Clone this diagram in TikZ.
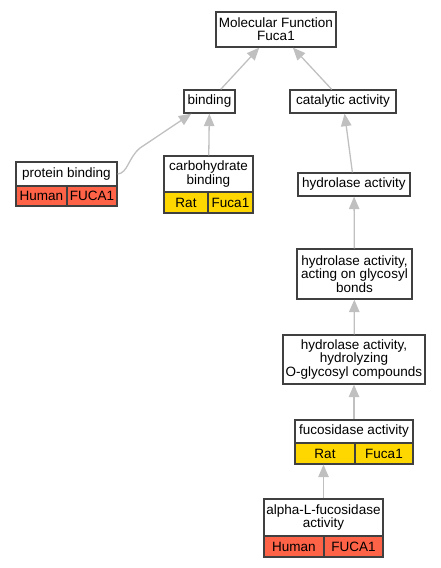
\documentclass[tikz,border=0pt]{standalone}
\usepackage{fontspec}
\setmainfont{Liberation Sans}
\usetikzlibrary{arrows.meta}
\definecolor{humancol}{HTML}{FF6347}
\definecolor{ratcol}{HTML}{FFD700}
\definecolor{edgecol}{HTML}{C0C0C0}
\definecolor{boxcol}{HTML}{404040}
\begin{document}
\begin{tikzpicture}[x=1pt,y=-1pt,
           term_style/.style={rectangle,draw=boxcol,line width=1.3pt,fill=white,inner sep=0pt,align=center,font=\fontsize{13.5}{13.2}\selectfont},
           human_style/.style={term_style,fill=humancol},
           rat_style/.style={term_style,fill=ratcol},
           edge_style/.style={draw=edgecol,line width=1.3pt,-{Triangle[length=12.5pt,width=10.5pt]}}]
            \useasboundingbox (0,0) rectangle (440,568);
            % terms
            \node[term_style,minimum width=120pt,minimum height=35pt] (mf) at (276, 29.5) {Molecular Function\\Fuca1};
            \node[term_style,minimum width=51pt,minimum height=23pt] (bind) at (209.5, 101.5) {binding};
            \node[term_style,minimum width=106pt,minimum height=23pt] (cat) at (343, 101.5) {catalytic activity};
            \node[term_style,minimum width=101pt,minimum height=24pt] (pb) at (66.5, 174) {protein binding};
            \node[term_style,minimum width=89pt,minimum height=36pt] (cb) at (208.5, 174) {carbohydrate\\binding};
            \node[term_style,minimum width=112pt,minimum height=23pt] (hyd) at (354, 184.5) {hydrolase activity};
            \node[term_style,minimum width=115pt,minimum height=50pt] (glyc) at (354.5, 274) {hydrolase activity,\\acting on glycosyl\\bonds};
            \node[term_style,minimum width=142pt,minimum height=49pt] (ogly) at (354, 359.5) {hydrolase activity,\\hydrolyzing\\O-glycosyl compounds};
            \node[term_style,minimum width=118pt,minimum height=23pt] (fuc) at (354, 431.5) {fucosidase activity};
            \node[term_style,minimum width=119pt,minimum height=37pt] (afuc) at (323.5, 517.5) {alpha-L-fucosidase\\activity};
            % species rows
            \node[human_style,minimum width=51pt,minimum height=20pt] (pb_sp) at (41.5, 196) {Human};
            \node[human_style,minimum width=50pt,minimum height=20pt] (pb_gene) at (92, 196) {FUCA1};
            \node[rat_style,minimum width=44pt,minimum height=21pt] (cb_sp) at (186, 202.5) {Rat};
            \node[rat_style,minimum width=45pt,minimum height=21pt] (cb_gene) at (230.5, 202.5) {Fuca1};
            \node[rat_style,minimum width=60pt,minimum height=21pt] (fuc_sp) at (325, 453.5) {Rat};
            \node[rat_style,minimum width=58pt,minimum height=21pt] (fuc_gene) at (384, 453.5) {Fuca1};
            \node[human_style,minimum width=60pt,minimum height=21pt] (afuc_sp) at (294, 546.5) {Human};
            \node[human_style,minimum width=59pt,minimum height=21pt] (afuc_gene) at (353.5, 546.5) {FUCA1};
            \coordinate (pb_bend) at (140, 148);
            % edges
            \draw[edge_style]  (bind) -- (mf);
            \draw[edge_style]  (cat) -- (mf);
            \draw[edge_style]  (pb.east) .. controls (128, 173) and (128, 158) .. (pb_bend) -- (bind);
            \draw[edge_style]  (cb) -- (bind);
            \draw[edge_style]  (hyd) -- (cat);
            \draw[edge_style]  (glyc) -- (hyd);
            \draw[edge_style]  (ogly) -- (glyc);
            \draw[edge_style]  (fuc) -- (ogly);
            \draw[edge_style]  (afuc) -- (afuc |- fuc_sp.south);
        \end{tikzpicture}
\end{document}
